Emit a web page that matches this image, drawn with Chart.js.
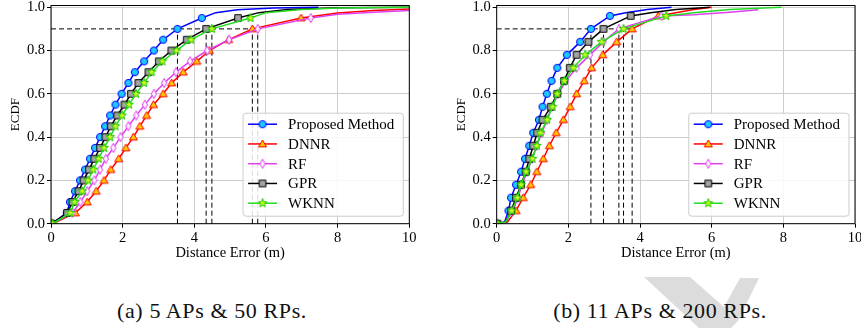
<!DOCTYPE html>
<html>
<head>
<meta charset="utf-8">
<script src="https://cdn.jsdelivr.net/npm/chart.js@4.4.1/dist/chart.umd.min.js"></script>
<style>
  html, body { margin: 0; padding: 0; background: #fff; }
  #page { position: relative; width: 861px; height: 328px; overflow: hidden; background: #fff; }
  #page canvas { position: absolute; top: 0; }
  #cA { left: 0; }
  #cB { left: 440px; }
  #mark { position: absolute; left: 0; top: 0; }
  .cap {
    position: absolute; top: 298px; line-height: 26px;
    font-family: 'Liberation Serif', 'Times New Roman', serif;
    font-size: 22px; letter-spacing: 0.6px; white-space: nowrap; color: #111;
    transform: translateX(-50%);
  }
</style>
</head>
<body>
<div id="page">
  <svg id="mark" width="861" height="328">
    <polygon points="644,277 690,277 724,307 740,278 759,278 738,321 731,328 699,328" fill="#dcdcdc"/>
  </svg>
  <canvas id="cA" width="430" height="264"></canvas>
  <canvas id="cB" width="430" height="264"></canvas>
  <div class="cap" style="left:212px">(a) 5 APs &amp; 50 RPs.</div>
  <div class="cap" style="left:660px">(b) 11 APs &amp; 200 RPs.</div>
</div>
<script>
// ---- (a) 5 APs & 50 RPs: distance error (m) reached at each ECDF level ----
const levelsA = [0.00, 0.05, 0.10, 0.15, 0.20, 0.25, 0.30, 0.35, 0.40, 0.45, 0.50, 0.55, 0.60, 0.65, 0.70, 0.75, 0.80, 0.85, 0.90, 0.95];
const proposedA = [0.03, 0.44, 0.53, 0.67, 0.81, 0.95, 1.09, 1.23, 1.37, 1.51, 1.65, 1.80, 1.97, 2.16, 2.34, 2.60, 2.87, 3.13, 3.53, 4.21];
const dnnrA     = [0.05, 0.68, 1.01, 1.26, 1.48, 1.67, 1.89, 2.09, 2.30, 2.48, 2.67, 2.86, 3.13, 3.37, 3.69, 4.07, 4.42, 4.96, 5.62, 6.98];
const rfA       = [0.04, 0.60, 0.82, 1.01, 1.21, 1.37, 1.53, 1.74, 1.94, 2.16, 2.38, 2.62, 2.87, 3.16, 3.49, 3.88, 4.36, 4.97, 5.77, 7.25];
const gprA      = [0.02, 0.45, 0.60, 0.77, 0.91, 1.06, 1.21, 1.37, 1.52, 1.67, 1.85, 2.05, 2.23, 2.44, 2.72, 3.01, 3.36, 3.79, 4.33, 5.22];
const wknnA     = [0.04, 0.54, 0.66, 0.87, 1.03, 1.18, 1.33, 1.48, 1.65, 1.80, 1.98, 2.18, 2.37, 2.60, 2.81, 3.11, 3.50, 3.91, 4.49, 5.57];
// unmarked curve points [error, ECDF]
const proposedExtraA = [[4.6, 0.975], [5.2, 0.988], [6.2, 0.996], [7.46, 1.0]];
const dnnrExtraA     = [[8.0, 0.973], [9.0, 0.985], [10.0, 0.992]];
const rfExtraA       = [[8.0, 0.968], [9.0, 0.977], [10.0, 0.985]];
const gprExtraA      = [[5.8, 0.975], [6.6, 0.99], [8.0, 0.998], [10.0, 1.0]];
const wknnExtraA     = [[6.0, 0.975], [7.0, 0.99], [8.0, 0.997], [10.0, 1.0]];

// ---- (b) 11 APs & 200 RPs ----
const levelsB = [0.00, 0.06, 0.12, 0.18, 0.24, 0.30, 0.36, 0.42, 0.48, 0.54, 0.60, 0.66, 0.72, 0.78, 0.84, 0.90, 0.96];
const proposedB = [0.02, 0.33, 0.40, 0.54, 0.68, 0.79, 0.91, 1.02, 1.18, 1.28, 1.40, 1.53, 1.69, 1.96, 2.33, 2.63, 3.16];
const dnnrB     = [0.02, 0.54, 0.74, 0.95, 1.12, 1.30, 1.47, 1.66, 1.86, 2.05, 2.23, 2.44, 2.65, 2.96, 3.35, 3.78, 4.51];
const rfB       = [0.02, 0.45, 0.60, 0.70, 0.86, 0.98, 1.12, 1.26, 1.41, 1.53, 1.72, 1.93, 2.23, 2.60, 2.98, 3.41, 4.60];
const gprB      = [0.02, 0.40, 0.54, 0.68, 0.81, 0.91, 1.02, 1.13, 1.28, 1.51, 1.69, 1.88, 2.04, 2.23, 2.56, 2.98, 3.74];
const wknnB     = [0.02, 0.42, 0.58, 0.68, 0.82, 1.00, 1.12, 1.22, 1.41, 1.56, 1.69, 1.89, 2.14, 2.47, 2.93, 3.54, 4.73];
const proposedExtraB = [[0.22, 0.008], [3.6, 0.975], [4.2, 0.99], [4.88, 1.0]];
const dnnrExtraB     = [[0.30, 0.008], [5.0, 0.975], [5.5, 0.99], [6.0, 1.0]];
const rfExtraB       = [[0.25, 0.008], [5.5, 0.965], [6.5, 0.977], [7.3, 0.988]];
const gprExtraB      = [[0.25, 0.008], [4.3, 0.975], [5.0, 0.99], [5.95, 1.0]];
const wknnExtraB     = [[0.25, 0.008], [5.5, 0.975], [6.5, 0.99], [7.95, 1.0]];

const methodNames = ['Proposed Method', 'DNNR', 'RF', 'GPR', 'WKNN'];
const xTicks = [0, 2, 4, 6, 8, 10];
const yTicks = [0.0, 0.2, 0.4, 0.6, 0.8, 1.0];
const refLevel = 0.90;

const FONT = "'Liberation Serif', 'Times New Roman', serif";

// ---- marker glyphs ----
function glyph(w, h, paint) {
  const c = document.createElement('canvas');
  c.width = w; c.height = h;
  const g = c.getContext('2d');
  g.lineWidth = 1;
  g.lineJoin = 'miter';
  paint(g, w / 2, h / 2);
  return c;
}
const markers = [
  glyph(10, 10, (g, cx, cy) => { g.beginPath(); g.arc(cx, cy, 3.6, 0, Math.PI * 2);
    g.fillStyle = '#1ec8ff'; g.fill(); g.strokeStyle = '#0000ff'; g.stroke(); }),
  glyph(11, 10, (g, cx, cy) => { g.beginPath(); g.moveTo(cx, cy - 4.0); g.lineTo(cx + 4.0, cy + 2.9); g.lineTo(cx - 4.0, cy + 2.9); g.closePath();
    g.fillStyle = '#ffc800'; g.fill(); g.strokeStyle = '#ff0000'; g.stroke(); }),
  glyph(8, 12, (g, cx, cy) => { g.beginPath(); g.moveTo(cx, cy - 4.6); g.lineTo(cx + 2.6, cy); g.lineTo(cx, cy + 4.6); g.lineTo(cx - 2.6, cy); g.closePath();
    g.fillStyle = '#fff4ff'; g.fill(); g.strokeStyle = '#e040f0'; g.stroke(); }),
  glyph(10, 10, (g, cx, cy) => { g.beginPath(); g.rect(cx - 3.3, cy - 3.3, 6.6, 6.6);
    g.fillStyle = '#a4a4a4'; g.fill(); g.strokeStyle = '#000000'; g.stroke(); }),
  glyph(12, 12, (g, cx, cy) => { g.beginPath();
    for (let k = 0; k < 10; k++) { const r = k % 2 ? 1.9 : 4.6; const a = -Math.PI / 2 + k * Math.PI / 5;
      const px = cx + r * Math.cos(a), py = cy + r * Math.sin(a); k ? g.lineTo(px, py) : g.moveTo(px, py); }
    g.closePath(); g.fillStyle = '#c8ff20'; g.fill(); g.strokeStyle = '#22c800'; g.stroke(); })
];
const lineColors = ['#0000ff', '#ff0000', '#e040f0', '#000000', '#22dd22'];

function curve(levels, xs, extra) {
  const pts = xs.map((x, i) => ({ x: x, y: levels[i], m: true }));
  extra.forEach(p => pts.push({ x: p[0], y: p[1], m: false }));
  pts.sort((a, b) => a.x - b.x || a.y - b.y);
  return pts;
}

// frame around the axes and the lower-right legend
const framePlugin = {
  id: 'frameAndLegend',
  afterDatasetsDraw(chart) {
    const ctx = chart.ctx, a = chart.chartArea;
    ctx.save();
    ctx.strokeStyle = '#000'; ctx.lineWidth = 1;
    ctx.strokeRect(a.left, a.top, a.right - a.left, a.bottom - a.top);

    const items = chart.data.datasets.filter(d => d.legendIndex !== undefined)
      .sort((p, q) => p.legendIndex - q.legendIndex);
    ctx.font = '15px ' + FONT;
    const tw = Math.max(...items.map(d => ctx.measureText(d.label).width));
    const w = 45 + tw + 9, h = 103;
    const left = a.right - 6 - w, top = a.bottom - 7.5 - h;
    ctx.beginPath();
    ctx.roundRect(left, top, w, h, 3);
    ctx.fillStyle = 'rgba(255,255,255,0.85)'; ctx.fill();
    ctx.strokeStyle = '#cccccc'; ctx.stroke();
    items.forEach((d, i) => {
      const y = top + 11 + i * 19.75;
      ctx.beginPath(); ctx.moveTo(left + 5, y); ctx.lineTo(left + 34, y);
      ctx.strokeStyle = d.borderColor; ctx.lineWidth = 1.5; ctx.stroke();
      const img = d.pointStyle;
      ctx.drawImage(img, left + 19.5 - img.width / 2, y - img.height / 2);
      ctx.fillStyle = '#000'; ctx.textBaseline = 'middle'; ctx.textAlign = 'left';
      ctx.fillText(d.label, left + 45, y + 1);
    });
    ctx.restore();
  }
};

function makeChart(id, levels, sets, yAxisWidth, yTitlePad, padRight) {
  const at90 = sets.map(s => s.xs[levels.indexOf(refLevel)]);
  const datasets = [];
  // dashed reference lines at the 0.9 level
  datasets.push({ data: [{ x: 0, y: refLevel }, { x: Math.max(...at90), y: refLevel }],
    showLine: true, borderColor: '#000', borderWidth: 1, borderDash: [5, 3], pointRadius: 0, order: 10 });
  at90.forEach(x => datasets.push({ data: [{ x: x, y: 0 }, { x: x, y: refLevel }],
    showLine: true, borderColor: '#000', borderWidth: 1, borderDash: [5, 3], pointRadius: 0, order: 10 }));
  sets.forEach((s, i) => datasets.push({
    label: methodNames[i], legendIndex: i,
    data: curve(levels, s.xs, s.extra),
    showLine: true, borderColor: lineColors[i], borderWidth: 1.5, tension: 0,
    pointStyle: markers[i], pointRadius: c => (c.raw && c.raw.m ? 4 : 0), pointHoverRadius: 0,
    order: 4 - i
  }));

  const tickFont = { family: FONT, size: 14.5 };
  const grid = { color: '#cdcdcd', lineWidth: 1, tickLength: 4, tickColor: '#000', drawTicks: true };
  return new Chart(document.getElementById(id), {
    type: 'scatter',
    data: { datasets },
    options: {
      responsive: false, animation: false, devicePixelRatio: 1,
      layout: { padding: { left: 0, right: padRight, top: 4, bottom: 0 } },
      plugins: { legend: { display: false }, tooltip: { enabled: false } },
      scales: {
        x: {
          type: 'linear', min: 0, max: 10,
          afterBuildTicks: s => { s.ticks = xTicks.map(v => ({ value: v })); },
          ticks: { font: tickFont, color: '#000', padding: 2, maxRotation: 0, callback: v => String(v) },
          grid: grid, border: { display: false },
          title: { display: true, text: 'Distance Error (m)', color: '#000',
                   font: { family: FONT, size: 14.5, lineHeight: 1.2 }, padding: { top: 0, bottom: 2.3 } },
          afterFit: s => { s.height = 40.3; s.paddingLeft = 0; s.paddingRight = 0; }
        },
        y: {
          type: 'linear', min: 0, max: 1.008,
          afterBuildTicks: s => { s.ticks = yTicks.map(v => ({ value: v })); },
          ticks: { font: tickFont, color: '#000', padding: 2, callback: v => Number(v).toFixed(1) },
          grid: grid, border: { display: false },
          title: { display: true, text: 'ECDF', color: '#000',
                   font: { family: FONT, size: 13, lineHeight: 1.2 }, padding: { top: yTitlePad, bottom: 0 } },
          afterFit: s => { s.width = yAxisWidth; s.paddingTop = 0; s.paddingBottom = 0; }
        }
      }
    },
    plugins: [framePlugin]
  });
}

makeChart('cA', levelsA, [
  { xs: proposedA, extra: proposedExtraA },
  { xs: dnnrA, extra: dnnrExtraA },
  { xs: rfA, extra: rfExtraA },
  { xs: gprA, extra: gprExtraA },
  { xs: wknnA, extra: wknnExtraA }
], 51, 8, 20.7);

makeChart('cB', levelsB, [
  { xs: proposedB, extra: proposedExtraB },
  { xs: dnnrB, extra: dnnrExtraB },
  { xs: rfB, extra: rfExtraB },
  { xs: gprB, extra: gprExtraB },
  { xs: wknnB, extra: wknnExtraB }
], 56.7, 14, 15);
</script>
</body>
</html>
